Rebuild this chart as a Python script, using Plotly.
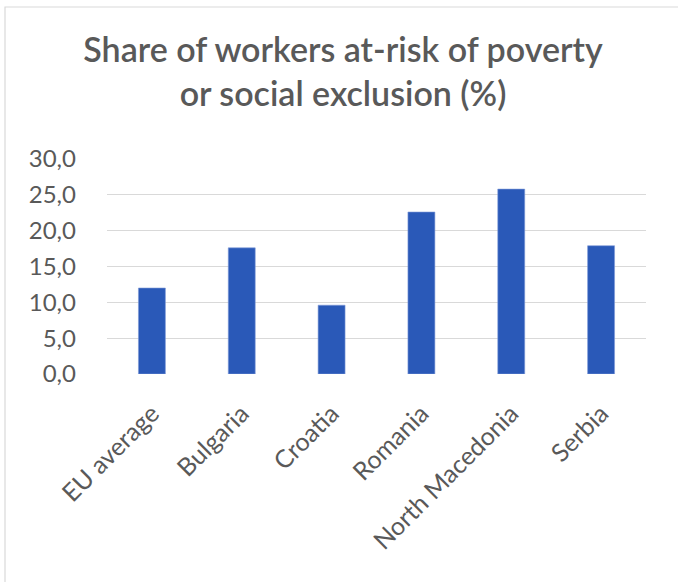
import plotly.graph_objects as go

categories = ["EU average", "Bulgaria", "Croatia", "Romania", "North Macedonia", "Serbia"]
values = [12.0, 17.6, 9.6, 22.6, 25.8, 17.9]
y_ticks = [0, 5, 10, 15, 20, 25, 30]
title_text = "Share of workers at-risk of poverty<br>or social exclusion (%)"

W, H = 678, 582
L, R, T, B = 107, 32, 159, 208
pw = W - L - R
ph = H - T - B

FONT = "Lato"
GRAY = "#595959"

fig = go.Figure(go.Bar(
    x=categories, y=values,
    marker=dict(color="#2A59B8", line=dict(color="#7F9BD6", width=0.6)),
    width=0.3,
))

fig.update_layout(
    width=W, height=H,
    margin=dict(l=L, r=R, t=T, b=B),
    paper_bgcolor="white", plot_bgcolor="white",
    separators=", ",
    showlegend=False,
    title=dict(text=title_text, x=343 / W, xanchor="center", xref="container",
               y=1 - 62 / H, yanchor="top", yref="container",
               font=dict(family=FONT, size=34, color=GRAY, weight=600)),
    font=dict(family=FONT, color=GRAY, size=25),
    shapes=[dict(type="rect", xref="paper", yref="paper",
                 x0=(5 - L) / pw, x1=(W + 20 - L) / pw,
                 y0=-(H + 20 - T - ph) / ph, y1=(H - 7 - B) / ph,
                 line=dict(color="#D9D9D9", width=1.2), fillcolor="rgba(0,0,0,0)", layer="below")],
)

fig.update_xaxes(showgrid=False, showline=False, zeroline=False, tickangle=-45,
                 tickfont=dict(family=FONT, size=25, color=GRAY), ticks="", ticklabelstandoff=19)
fig.update_yaxes(range=[0, 30], tickvals=y_ticks, tickformat=".1f", showgrid=True,
                 gridcolor="#D9D9D9", gridwidth=1.3, zeroline=False, showline=False, ticks="",
                 tickfont=dict(family=FONT, size=24, color=GRAY), ticklabelstandoff=30)

fig.write_html("out.html")
